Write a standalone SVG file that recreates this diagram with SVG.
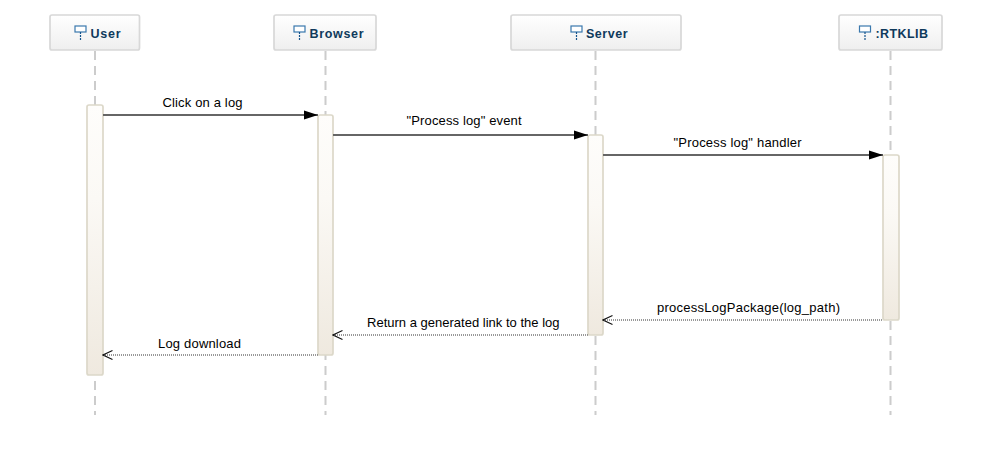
<svg xmlns="http://www.w3.org/2000/svg" width="992" height="465" viewBox="0 0 992 465">
<defs>
<linearGradient id="head" x1="0" y1="0" x2="0" y2="1"><stop offset="0" stop-color="#ffffff"/><stop offset="1" stop-color="#efefef"/></linearGradient>
<linearGradient id="act" x1="0" y1="0" x2="0" y2="1"><stop offset="0" stop-color="#fefdfb"/><stop offset="0.35" stop-color="#fbf9f5"/><stop offset="1" stop-color="#efe9df"/></linearGradient>
<marker id="solid" markerUnits="userSpaceOnUse" markerWidth="15" markerHeight="10" refX="14" refY="5" orient="auto"><path d="M0 0.5L14 5L0 9.5Z" fill="#000"/></marker>
<marker id="open" markerUnits="userSpaceOnUse" markerWidth="12" markerHeight="12" refX="1" refY="6" orient="auto"><path d="M10.5 1.5L1 6L10.5 10.500" fill="none" stroke="#111" stroke-width="1.100"/></marker>
<g id="icon"><rect x="-5.500" y="-6" width="11" height="6" fill="#fff" stroke="#3a78ad" stroke-width="1.200"/><path d="M0 0V8" stroke="#14548c" stroke-width="1.200" stroke-dasharray="2 1"/></g>
</defs>
<style>
.life{stroke:#cccccc;stroke-width:2;stroke-dasharray:9 6;fill:none}
.box{fill:url(#head);stroke:#d8d8d8;stroke-width:1.700}
.name{font:bold 12.500px "Liberation Sans",Arial,sans-serif;fill:#0f3a5c}
.a{fill:url(#act);stroke:#dcd8c9;stroke-width:1.700}
.lbl{font:13px "Liberation Sans",Arial,sans-serif;fill:#000}
.sync{stroke:#666;stroke-width:2;fill:none;marker-end:url(#solid)}
.ret{stroke:#333;stroke-width:1;stroke-dasharray:1 1;fill:none;marker-start:url(#open)}
</style>
<rect width="992" height="465" fill="#fff"/>
<g id="node-user">
<path class="life" d="M95 51V415"/>
<rect class="box" x="50" y="15" width="89.500" height="35" rx="2"/>
<use href="#icon" x="80.500" y="32"/><text class="name" x="90.500" y="37.500" textLength="30" lengthAdjust="spacing">User</text>
</g>
<g id="node-browser">
<path class="life" d="M325.500 51V415"/>
<rect class="box" x="274" y="15" width="102" height="35" rx="2"/>
<use href="#icon" x="299.500" y="32"/><text class="name" x="309.500" y="37.500" textLength="54" lengthAdjust="spacing">Browser</text>
</g>
<g id="node-server">
<path class="life" d="M595.500 51V415"/>
<rect class="box" x="511" y="15" width="170" height="35" rx="2"/>
<use href="#icon" x="576.500" y="32"/><text class="name" x="586" y="37.500" textLength="41.500" lengthAdjust="spacing">Server</text>
</g>
<g id="node-rtklib">
<path class="life" d="M890.500 51V415"/>
<rect class="box" x="839" y="15" width="103" height="35" rx="2"/>
<use href="#icon" x="865" y="32"/><text class="name" x="875.500" y="37.500" textLength="52.500" lengthAdjust="spacing">:RTKLIB</text>
</g>
<g id="activations">
<rect class="a" x="87" y="105" width="16" height="270" rx="2"/>
<rect class="a" x="318" y="115" width="15" height="240" rx="2"/>
<rect class="a" x="588" y="135" width="15" height="200" rx="2"/>
<rect class="a" x="883" y="155" width="16" height="165" rx="2"/>
</g>
<g id="connectors">
<path class="sync" d="M103 115H318"/>
<path class="sync" d="M333 135H588"/>
<path class="sync" d="M603 155H883"/>
<path class="ret" d="M603 320H883"/>
<path class="ret" d="M333 335H588"/>
<path class="ret" d="M103 355H318"/>
</g>
<g id="labels">
<text class="lbl" x="162.500" y="107" textLength="80" lengthAdjust="spacing">Click on a log</text>
<text class="lbl" x="406.500" y="125" textLength="115" lengthAdjust="spacing">"Process log" event</text>
<text class="lbl" x="673.500" y="147" textLength="128" lengthAdjust="spacing">"Process log" handler</text>
<text class="lbl" x="657" y="312" textLength="183" lengthAdjust="spacing">processLogPackage(log_path)</text>
<text class="lbl" x="367" y="327" textLength="192.500" lengthAdjust="spacing">Return a generated link to the log</text>
<text class="lbl" x="158" y="348" textLength="83" lengthAdjust="spacing">Log download</text>
</g>
</svg>
